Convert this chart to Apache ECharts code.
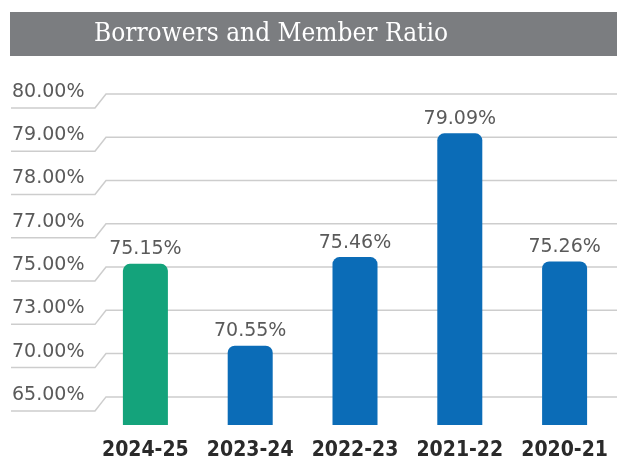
<!DOCTYPE html>
<html>
<head>
<meta charset="utf-8">
<style>
  html, body { margin: 0; padding: 0; background: #ffffff; }
  #chart { width: 617px; height: 461px; }
</style>
<script src="https://cdn.jsdelivr.net/npm/echarts@6/dist/echarts.min.js"></script>
</head>
<body>
<div id="chart"></div>
<script>
// Financial years and the borrower-to-member ratio (%) for each
const categories = ['2024-25', '2023-24', '2022-23', '2021-22', '2020-21'];
const ratios = [75.15, 70.55, 75.46, 79.09, 75.26];
// Tick values of the ratio axis (evenly spaced on the chart)
const tickValues = [65, 70, 73, 75, 77, 78, 79, 80];
const titleText = 'Borrowers and Member Ratio';

// The ratio axis is piecewise: each tick sits one step above the previous.
// Map a ratio to its position on that stepped scale (65% -> 1, 80% -> 8).
function toAxisPos(v) {
  for (let i = 0; i < tickValues.length - 1; i++) {
    const a = tickValues[i], b = tickValues[i + 1];
    if (v >= a && v <= b) return (i + 1) + (v - a) / (b - a);
  }
  return v < tickValues[0] ? 1 : tickValues.length;
}

const GREEN = '#14a37b';
const BLUE = '#0b6cb7';

const chart = echarts.init(document.getElementById('chart'), null, { renderer: 'canvas' });

chart.setOption({
  backgroundColor: '#ffffff',
  animation: false,
  graphic: [
    {
      type: 'rect',
      shape: { x: 10, y: 12, width: 607, height: 44 },
      style: { fill: '#7b7d80' },
      z: 10
    },
    {
      type: 'text',
      x: 271,
      y: 34,
      style: {
        text: titleText,
        fill: '#ffffff',
        font: '26px "DejaVu Serif Condensed", "DejaVu Serif"',
        align: 'center',
        verticalAlign: 'middle'
      },
      z: 11
    }
  ],
  grid: { left: 93, right: -8, top: 94, bottom: 35, containLabel: false },
  xAxis: {
    type: 'category',
    data: categories,
    axisLine: { show: false },
    axisTick: { show: false },
    axisLabel: {
      interval: 0,
      hideOverlap: false,
      margin: 15,
      fontFamily: '"DejaVu Sans Condensed", "DejaVu Sans"',
      fontWeight: 'bold',
      fontSize: 21,
      color: '#2a2a2a'
    }
  },
  yAxis: {
    type: 'value',
    min: 0.35,
    max: tickValues.length,
    axisLine: { show: false },
    axisTick: { show: false },
    axisLabel: { show: false },
    splitLine: { show: false }
  },
  series: [
    {
      // Grid rules with their tab-shaped underlines and tick labels
      type: 'custom',
      z: 1,
      clip: false,
      silent: true,
      data: tickValues.map((t, i) => [0, i + 1, t]),
      encode: { x: 0, y: 1 },
      renderItem: function (params, api) {
        const y = api.coord([0, api.value(1)])[1];
        const w = api.getWidth();
        return {
          type: 'group',
          children: [
            {
              type: 'polyline',
              shape: { points: [[11, y + 14], [95, y + 14], [106, y], [w, y]] },
              style: { stroke: '#cdcdcd', lineWidth: 1.5, fill: null }
            },
            {
              type: 'text',
              x: 12,
              y: y - 2,
              style: {
                text: api.value(2).toFixed(2) + '%',
                fill: '#5a5a5a',
                font: '19px "DejaVu Sans"',
                align: 'left',
                verticalAlign: 'middle'
              }
            }
          ]
        };
      }
    },
    {
      type: 'bar',
      z: 2,
      barWidth: 45,
      data: ratios.map((v, i) => ({
        value: toAxisPos(v),
        itemStyle: { color: i === 0 ? GREEN : BLUE }
      })),
      itemStyle: { borderRadius: [7, 7, 0, 0] },
      label: {
        show: true,
        position: 'top',
        distance: 5,
        fontFamily: 'DejaVu Sans',
        fontSize: 19,
        color: '#5a5a5a',
        formatter: p => ratios[p.dataIndex].toFixed(2) + '%'
      }
    }
  ]
});
</script>
</body>
</html>
